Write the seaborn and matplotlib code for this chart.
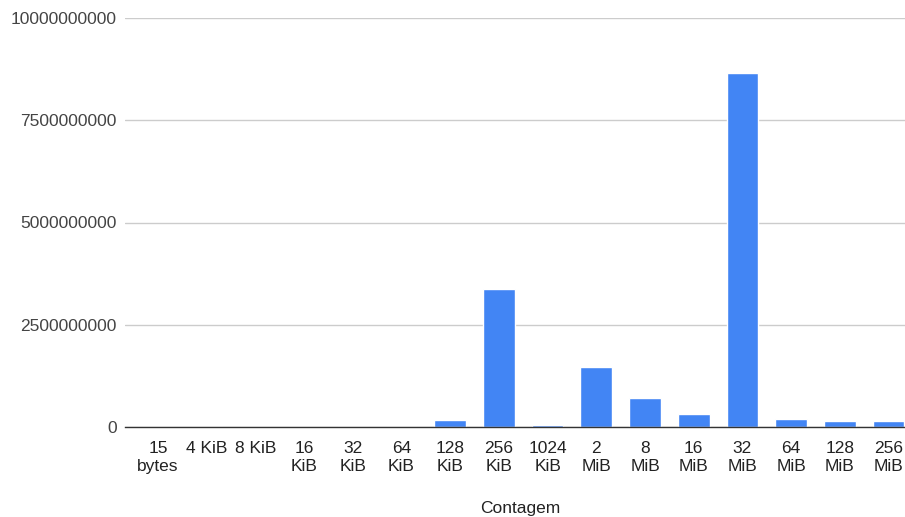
import matplotlib
matplotlib.use("Agg")
import matplotlib.pyplot as plt
import seaborn as sns
import pandas as pd

# File-size buckets and how many bytes fall into each
categories = ["15\nbytes", "4 KiB", "8 KiB", "16\nKiB", "32\nKiB", "64\nKiB",
              "128\nKiB", "256\nKiB", "1024\nKiB", "2\nMiB", "8\nMiB", "16\nMiB",
              "32\nMiB", "64\nMiB", "128\nMiB", "256\nMiB"]
counts = [0, 0, 0, 0, 0, 0,
          170000000, 3370000000, 60000000, 1460000000, 720000000, 310000000,
          8660000000, 200000000, 140000000, 140000000]
yticks = [0, 2500000000, 5000000000, 7500000000, 10000000000]

df = pd.DataFrame({"bucket": categories, "Contagem": counts})

sns.set_style("white")
plt.rcParams["font.family"] = ["Liberation Sans", "DejaVu Sans"]

fig = plt.figure(figsize=(9.05, 5.17), dpi=100)
ax = fig.add_axes([125 / 905, (517 - 427) / 517, 780 / 905, (427 - 18) / 517])

sns.barplot(data=df, x="bucket", y="Contagem", color="#4285F4", width=0.65,
            saturation=1, ax=ax, zorder=3)

ax.set_xlim(-0.68, 15.34)
ax.set_ylim(0, 10000000000)
ax.set_yticks(yticks)
ax.set_yticklabels([str(v) for v in yticks], fontsize=12.5, color="#444444")
ax.grid(axis="y", color="#cccccc", linewidth=1, zorder=0)
ax.tick_params(axis="y", length=0, pad=6)
ax.tick_params(axis="x", length=0, pad=10, labelsize=12.5, labelcolor="#222222")
for lbl in ax.get_xticklabels():
    lbl.set_linespacing(1.3)

for side in ["top", "right", "left"]:
    ax.spines[side].set_visible(False)
ax.spines["bottom"].set_color("#333333")
ax.spines["bottom"].set_linewidth(1.0)
ax.spines["bottom"].set_zorder(4)

ax.set_ylabel("")
ax.set_xlabel("Contagem", fontsize=12.5, color="#222222")
ax.xaxis.set_label_coords((520 - 125) / 780, -(508 - 427) / 409)
ax.xaxis.label.set_va("center")

fig.savefig("out.png", dpi=100, facecolor="white")
